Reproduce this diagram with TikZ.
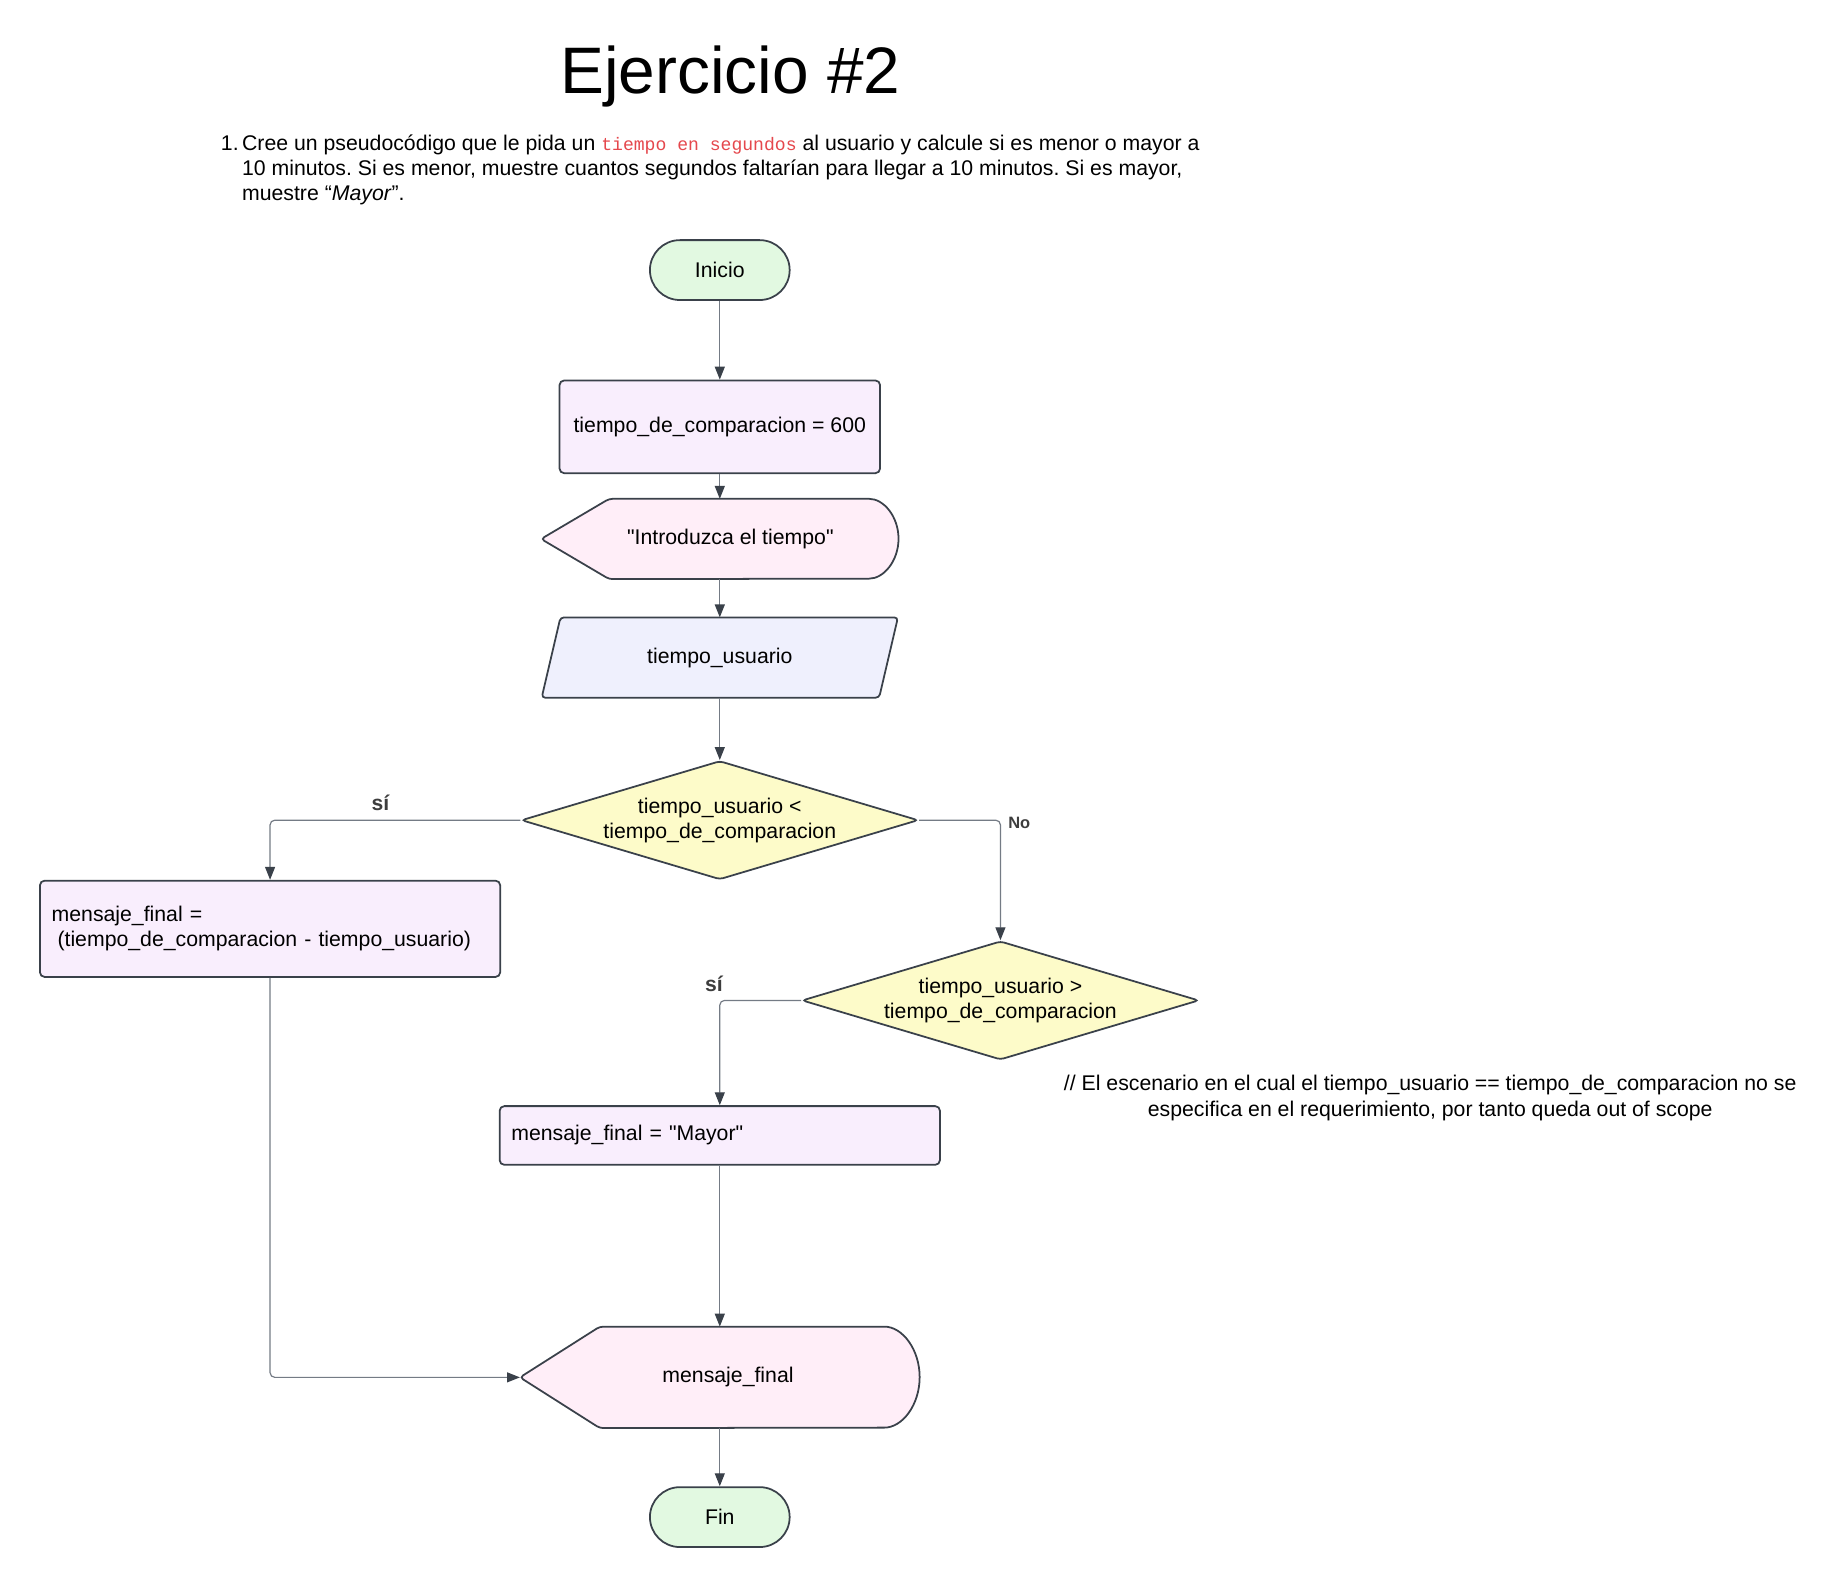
\documentclass[tikz,border=0pt]{standalone}
\usepackage{fontspec}
\setmainfont{Liberation Sans}
\setmonofont{Liberation Mono}
\usepackage{tikz}
\usetikzlibrary{calc,arrows.meta,shapes.geometric,backgrounds}
\frenchspacing

\definecolor{borde}{HTML}{3A414A}
\definecolor{linea}{HTML}{747B85}
\definecolor{verde}{HTML}{E2F9E1}
\definecolor{morado}{HTML}{F9EEFD}
\definecolor{rosa}{HTML}{FFEEF8}
\definecolor{azul}{HTML}{EFF0FD}
\definecolor{amarillo}{HTML}{FDFBC9}
\definecolor{rojo}{HTML}{E5484D}
\definecolor{etiqueta}{HTML}{3D3D3D}

% display symbol drawn round a named node: node, point, x radius, y radius
\newcommand{\pantalla}[4]{%
	\draw[forma,fill=rosa,rounded corners=3] (#1.west) -- ([xshift=#2]#1.north west) -- ([xshift=-#3]#1.north east)
	arc[start angle=90,end angle=-90,x radius=#3,y radius=#4] -- ([xshift=#2]#1.south west) -- cycle;
}

\begin{document}
\begin{tikzpicture}[x=1pt,y=1pt, flecha/.style={draw=linea,line width=1pt,rounded corners=4,-{Triangle[length=11pt,width=8.5pt,color=borde]}}]
		% Define styles
		\tikzstyle{forma}=[draw=borde,line width=1.5pt]
		\tikzstyle{texto}=[font=\fontsize{18.1}{21.5}\selectfont,inner sep=0pt]
		\tikzstyle{terminal}=[forma,texto,fill=verde,rounded corners=25.5pt,minimum width=119pt,minimum height=51pt]
		\tikzstyle{proceso}=[forma,texto,fill=morado,rounded corners=4pt]
		\tikzstyle{decision}=[forma,texto,fill=amarillo,diamond,aspect=3.35,rounded corners=3pt,minimum width=338pt,minimum height=101pt,align=center]
		\tikzstyle{hueco}=[texto]
		\tikzstyle{rama}=[font=\fontsize{18}{20}\selectfont\bfseries,text=etiqueta,inner sep=0pt]
		
		\useasboundingbox (0,0) rectangle (1567,-1350.7);
		
		% Title and statement
		\node[anchor=base,font=\fontsize{56}{60}\selectfont] (titulo) at (622,-80) {Ejercicio \#2};
		\node[anchor=base west,texto] (num) at (188,-128) {1.};
		\node[anchor=base west,texto] (lin1) at (206,-128) {Cree un pseudocódigo que le pida un {\color{rojo}\fontsize{15.4}{18}\selectfont\ttfamily tiempo en segundos} al usuario y calcule si es menor o mayor a};
		\node[anchor=base west,texto] (lin2) at (206,-149.5) {10 minutos. Si es menor, muestre cuantos segundos faltarían para llegar a 10 minutos. Si es mayor,};
		\node[anchor=base west,texto] (lin3) at (206,-171) {muestre “\textit{Mayor}”.};
		
		% Flowchart
		\node[terminal] (inicio) at (613,-230) {Inicio};
		\node[proceso,minimum width=273pt,minimum height=79pt] (comp) at (613,-363.5) {tiempo\_de\_comparacion = 600};
		\node[hueco,minimum width=304pt,minimum height=68pt] (intro) at (613,-459) {\hspace*{18pt}\textquotedbl Introduzca el tiempo\textquotedbl};
		\node[hueco,minimum width=303pt,minimum height=68pt] (tusr) at (613,-560) {tiempo\_usuario};
		\node[decision] (menor) at (613,-698.5) {tiempo\_usuario <\\tiempo\_de\_comparacion};
		\node[proceso,minimum width=392pt,minimum height=82pt,text width=372pt,align=left] (resta) at (230,-791) {mensaje\_final =\\\hspace*{5pt}(tiempo\_de\_comparacion - tiempo\_usuario)};
		\node[decision] (mayor) at (852,-852) {tiempo\_usuario >\\tiempo\_de\_comparacion};
		\node[proceso,minimum width=375pt,minimum height=50pt,text width=355pt,align=left] (msjmayor) at (613,-967) {mensaje\_final = \textquotedbl Mayor\textquotedbl};
		\node[hueco,minimum width=340pt,minimum height=86pt] (salida) at (613,-1173) {\hspace*{14pt}mensaje\_final};
		\node[terminal] (fin) at (613,-1292) {Fin};
		
		% Note
		\node[texto,align=center] (nota) at (1218,-935) {// El escenario en el cual el tiempo\_usuario == tiempo\_de\_comparacion no se\\especifica en el requerimiento, por tanto queda out of scope};
		
		% Branch labels
		\node[rama] (si1) at (324,-684) {sí};
		\node[rama] (si2) at (608,-838) {sí};
		\node[rama,font=\fontsize{14}{16}\selectfont\bfseries] (no) at (868,-701) {No};
		
		% Input and output symbols
		\begin{scope}[on background layer]
			\fill[white] (0,0) rectangle (1567,-1350.7);
			\pantalla{intro}{58}{28}{34}
			\draw[forma,fill=azul,rounded corners=3] ([xshift=16]tusr.north west) -- (tusr.north east) -- ([xshift=-16]tusr.south east) -- (tusr.south west) -- cycle;
			\pantalla{salida}{68}{33}{43}
		\end{scope}
		
		% Connectors
		\draw[flecha] (inicio.south) -- (comp.north);
		\draw[flecha] (comp.south) -- (intro.north);
		\draw[flecha] (intro.south) -- (tusr.north);
		\draw[flecha] (tusr.south) -- (menor.north);
		\draw[flecha] (menor.west) -| (resta.north);
		\draw[flecha] (menor.east) -| (mayor.north);
		\draw[flecha] (mayor.west) -| (msjmayor.north);
		\draw[flecha] (msjmayor.south) -- (salida.north);
		\draw[flecha] (resta.south) |- (salida.west);
		\draw[flecha] (salida.south) -- (fin.north);
		
	\end{tikzpicture}
\end{document}
